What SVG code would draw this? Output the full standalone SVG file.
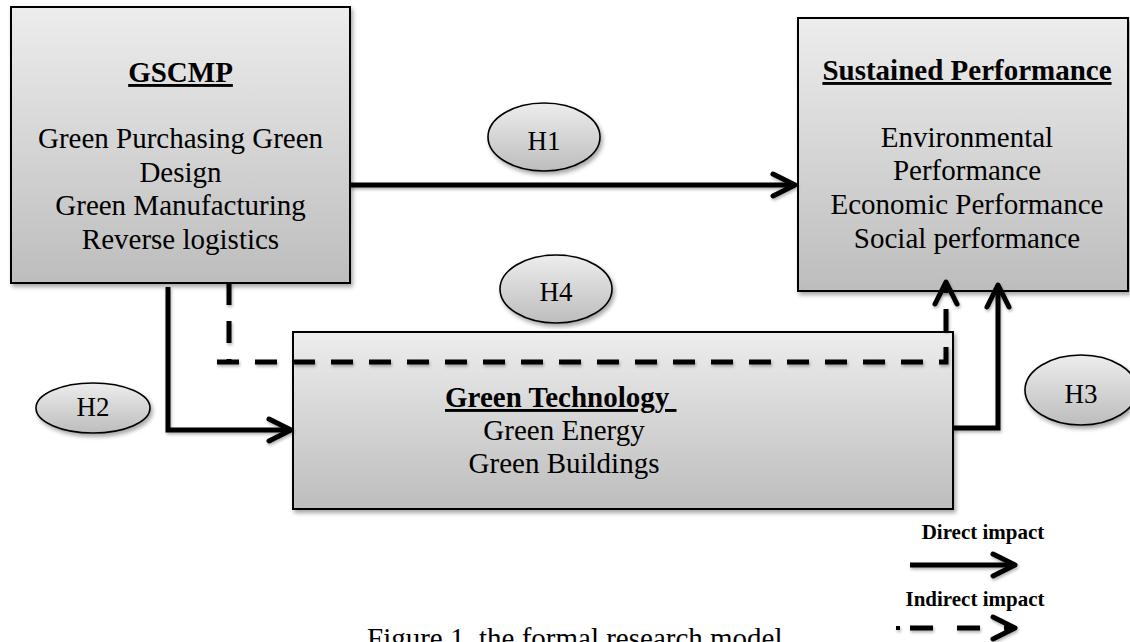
<svg xmlns="http://www.w3.org/2000/svg" width="1130" height="642" viewBox="0 0 1130 642">
<style>
.box{fill:url(#g);stroke:#000;stroke-width:2;filter:url(#sh)}
.ell{fill:url(#g);stroke:#000;stroke-width:1.6;filter:url(#sh)}
.t{font-family:"Liberation Serif","Times New Roman",serif;font-size:29px;fill:#000;text-anchor:middle}
.b{font-weight:bold;text-decoration:underline}
.h{font-family:"Liberation Serif","Times New Roman",serif;font-size:27px;fill:#000;text-anchor:middle}
.lg{font-family:"Liberation Serif","Times New Roman",serif;font-size:21px;font-weight:bold;fill:#000;text-anchor:middle}
.c{fill:none;stroke:#000;stroke-width:5}
.d{stroke-dasharray:22 16}
</style>
<defs>
<linearGradient id="g" x1="0" y1="0" x2="0" y2="1">
<stop offset="0" stop-color="#ededed"/>
<stop offset="1" stop-color="#bdbdbd"/>
</linearGradient>
<filter id="sh" x="-10%" y="-10%" width="125%" height="130%">
<feDropShadow dx="2" dy="3" stdDeviation="2" flood-color="#000" flood-opacity="0.35"/>
</filter>
<filter id="ls" filterUnits="userSpaceOnUse" x="0" y="0" width="1130" height="642">
<feDropShadow dx="1" dy="2" stdDeviation="1.5" flood-color="#000" flood-opacity="0.3"/>
</filter>
<marker id="chev" markerUnits="userSpaceOnUse" viewBox="-4 -4 32 30" refX="22" refY="11" markerWidth="32" markerHeight="30" orient="auto" overflow="visible">
<path d="M0,0 L22,11 L0,22" fill="none" stroke="#000" stroke-width="5" stroke-linecap="round" stroke-linejoin="round" stroke-dasharray="none"/>
</marker>
</defs>

<g id="gscmp">
<rect class="box" x="11" y="7" width="339" height="276"/>
<text class="t b" x="180.5" y="82">GSCMP</text>
<text class="t" x="180.5" y="148">Green Purchasing Green</text>
<text class="t" x="180.5" y="182">Design</text>
<text class="t" x="180.5" y="215">Green Manufacturing</text>
<text class="t" x="180.5" y="249">Reverse logistics</text>
</g>

<g id="sustained">
<rect class="box" x="798" y="18" width="330" height="273"/>
<text class="t b" x="967" y="80">Sustained Performance</text>
<text class="t" x="967" y="147">Environmental</text>
<text class="t" x="967" y="180">Performance</text>
<text class="t" x="967" y="214">Economic Performance</text>
<text class="t" x="967" y="248">Social performance</text>
</g>

<g id="greentech">
<rect class="box" x="293" y="332" width="660" height="177"/>
<text class="t b" x="445" y="407" style="text-anchor:start" xml:space="preserve">Green Technology </text>
<text class="t" x="564" y="440">Green Energy</text>
<text class="t" x="564" y="473">Green Buildings</text>
</g>

<g id="h1">
<ellipse class="ell" cx="544" cy="137" rx="56" ry="34"/>
<text class="h" x="544" y="150">H1</text>
</g>
<g id="h4">
<ellipse class="ell" cx="556" cy="289" rx="56" ry="34"/>
<text class="h" x="556" y="301">H4</text>
</g>
<g id="h2">
<ellipse class="ell" cx="93" cy="408" rx="57" ry="25"/>
<text class="h" x="93" y="416">H2</text>
</g>
<g id="h3">
<ellipse class="ell" cx="1081" cy="390" rx="56" ry="35"/>
<text class="h" x="1081" y="403">H3</text>
</g>

<g id="connectors" filter="url(#ls)">
<path class="c" d="M350,185 H795" marker-end="url(#chev)"/>
<path class="c" d="M168,287 V430 H291" marker-end="url(#chev)"/>
<path class="c" d="M953,428 H998 V285" marker-end="url(#chev)"/>
<path class="c d" d="M229,283 V362"/>
<path class="c d" d="M217,362 H946 V282" marker-end="url(#chev)"/>
</g>

<g id="legend">
<text class="lg" x="983" y="539">Direct impact</text>
<text class="lg" x="975" y="606">Indirect impact</text>
<g filter="url(#ls)">
<path class="c" d="M910,565 H1015" marker-end="url(#chev)"/>
<rect x="896" y="626" width="4" height="4" fill="#000"/>
<path class="c" d="M910,628 H1015" style="stroke-dasharray:23 24" marker-end="url(#chev)"/>
</g>
</g>

<text class="t" x="367" y="648" style="text-anchor:start">Figure 1. the formal research model</text>
</svg>
